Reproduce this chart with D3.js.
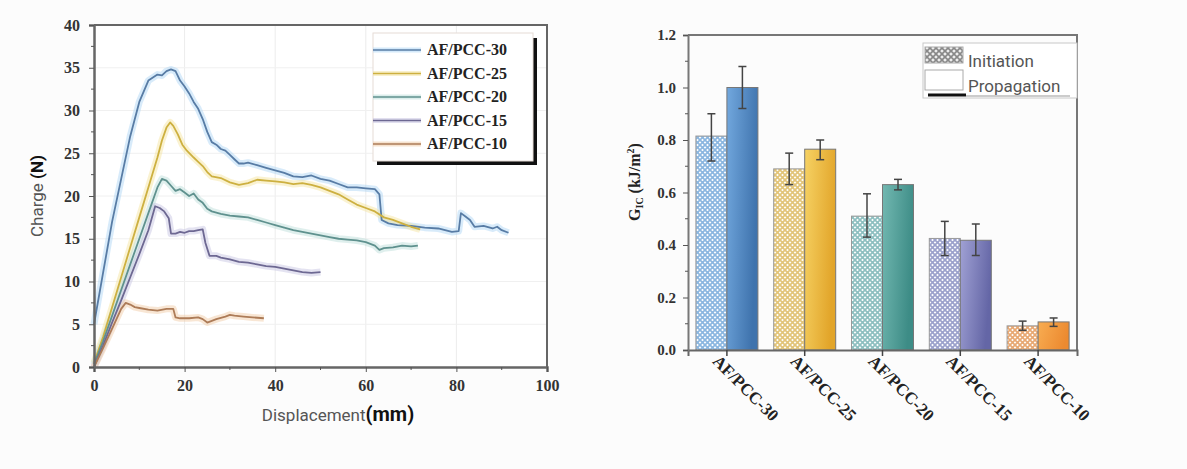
<!DOCTYPE html>
<html><head><meta charset="utf-8">
<script src="https://cdn.jsdelivr.net/npm/d3@7"></script>
<style>
body{margin:0;background:#fcfcfc;}
svg{display:block}
</style></head><body><svg width="1187" height="469"></svg>
<script>
// load-displacement curves [mm, N]
const series = ['AF/PCC-30','AF/PCC-25','AF/PCC-20','AF/PCC-15','AF/PCC-10']
const curve30 = [[0,5],[2,11],[4,17],[6,22],[8,27],[10,31],[12,33.5],[14,34.2],[15,34.1],[16,34.6],[17,34.8],[18,34.6],[19,33.5],[20,32.8],[21,32],[22,31],[23,30.2],[24,29],[25,27.5],[26,26.3],[27,26],[28,25.5],[29,25.3],[30,24.8],[31,24.3],[32,23.8],[33,23.8],[34,23.9],[36,23.6],[38,23.3],[40,23],[42,22.7],[44,22.3],[46,22.2],[48,22.4],[50,22.0],[52,21.8],[54,21.4],[56,21.0],[58,21.0],[60,20.9],[62,20.8],[63,20.2],[63.5,17.2],[65,16.8],[67,16.6],[70,16.5],[73,16.3],[76,16.2],[79,15.8],[80.5,15.9],[81,18.0],[82,17.6],[83,17.2],[84,16.4],[86,16.5],[88,16.2],[89,16.4],[90,16.0],[91.5,15.7]]
const curve25 = [[0,0.5],[2,3.5],[4,7],[6,10.5],[8,14],[10,17.5],[12,21],[14,24.5],[15,26.5],[16,28],[16.8,28.6],[17.5,28.2],[18.5,27.2],[19.5,26],[20.5,25.3],[22,24.5],[23,24],[24,23.5],[25,22.8],[26,22.3],[28,22.1],[30,21.6],[32,21.3],[34,21.5],[36,21.9],[38,21.8],[40,21.7],[42,21.6],[44,21.4],[46,21.5],[48,21.3],[50,21],[52,20.6],[54,20.2],[56,19.6],[58,19.0],[60,18.6],[62,18.2],[64,17.5],[66,17.2],[68,16.8],[70,16.4],[72,16.1]]
const curve20 = [[0,0.3],[2,3],[4,6],[6,9],[8,12],[10,15],[12,18],[14,21],[15,22],[16,21.8],[17,21.2],[18,20.6],[19,20.8],[20,20.4],[21,20.0],[22,20.3],[23,19.6],[24,19.2],[25,18.5],[26,18.2],[28,17.9],[30,17.7],[32,17.6],[34,17.5],[36,17.2],[38,16.9],[40,16.6],[42,16.3],[44,16.0],[46,15.8],[48,15.6],[50,15.4],[52,15.2],[54,15.0],[56,14.9],[58,14.8],[60,14.6],[62,14.2],[63,13.7],[64,13.9],[66,14.0],[68,14.2],[70,14.1],[71.5,14.2]]
const curve15 = [[0,0],[2,2.5],[4,5.2],[6,7.8],[8,10.5],[10,13.2],[12,16],[13.5,18.8],[14.5,18.6],[15.5,18.2],[16.5,17.4],[17,15.6],[18,15.6],[19,15.8],[20,15.7],[21,15.9],[22,15.9],[23,16],[24,16.1],[24.6,14.5],[25.5,13],[27,13],[28,12.8],[30,12.6],[32,12.3],[34,12.2],[36,12],[38,11.8],[40,11.7],[42,11.5],[44,11.3],[46,11.1],[48,11.0],[50,11.1]]
const curve10 = [[0,0],[2,2.2],[4,4.5],[6,6.8],[7,7.5],[8,7.3],[9,7.0],[10,6.9],[12,6.7],[14,6.6],[16,6.8],[17.5,6.8],[18,5.8],[19,5.7],[21,5.7],[23,5.8],[24,5.6],[25,5.2],[26,5.4],[27,5.6],[29,5.9],[30,6.1],[31,6.0],[33,5.9],[35,5.8],[37.5,5.7]]
const curves = [curve30, curve25, curve20, curve15, curve10]

// fracture toughness G_IC [kJ/m2]
const initiation = [0.815, 0.69, 0.51, 0.425, 0.092]
const initErr = [[0.72,0.90],[0.63,0.75],[0.43,0.595],[0.36,0.49],[0.075,0.11]]
const propagation = [1.0, 0.765, 0.63, 0.418, 0.107]
const propErr = [[0.92,1.08],[0.725,0.80],[0.61,0.65],[0.36,0.48],[0.09,0.122]]

const lineCol = ['#587ca5','#cdb040','#5f918e','#6d6892','#ad7c58']
const haloCol = ['#a9d3f5','#f3e39a','#b7dcd8','#c4c0e0','#f0c8a0']
const barLight = ['#72a8de','#f6d264','#72b8b1','#a0a1d4','#f8ad52']
const barDark = ['#3f73ad','#e2a52a','#3d8c86','#6466a6','#ec8a30']
const hatchCol = ['#8ab6e0','#e2c478','#8dbfc0','#9ba1cc','#e8a872']

const serif = 'Liberation Serif'
const svg = d3.select('svg')
svg.append('rect').attr('width',1187).attr('height',469).attr('fill','#fcfcfc')
const defs = svg.append('defs')

function styleTicks(a, size) {
	a.selectAll('.tick text').attr('font-family',serif).attr('font-weight','bold')
		.attr('font-size',size).attr('fill','#333')
}

// ---------- left: load vs displacement ----------
const x = d3.scaleLinear().domain([0,100]).range([94,547])
const y = d3.scaleLinear().domain([0,40]).range([367,25])
const L = svg.append('g')

L.append('rect').attr('x',94).attr('y',25).attr('width',453).attr('height',342).attr('fill','#fff')
L.append('g').selectAll('line').data([20,40,60,80]).join('line')
	.attr('x1',d => x(d)).attr('x2',d => x(d)).attr('y1',25).attr('y2',367)
	.attr('stroke','#ececec')
L.append('g').selectAll('line').data([5,10,15,20,25,30,35]).join('line')
	.attr('x1',94).attr('x2',547).attr('y1',d => y(d)).attr('y2',d => y(d))
	.attr('stroke','#f0f0f0')

const line = d3.line().x(d => x(d[0])).y(d => y(d[1]))
curves.forEach((c,i) => {
	L.append('path').datum(c).attr('d',line).attr('fill','none')
		.attr('stroke',haloCol[i]).attr('stroke-width',7).attr('stroke-opacity',0.45)
		.attr('stroke-linejoin','round')
})
curves.forEach((c,i) => {
	L.append('path').datum(c).attr('d',line).attr('fill','none')
		.attr('stroke',lineCol[i]).attr('stroke-width',1.8)
		.attr('stroke-linejoin','round')
})

// frame
L.append('path').attr('d','M94,25H547V367').attr('fill','none').attr('stroke','#666').attr('stroke-width',2)
const xAx = L.append('g').attr('transform','translate(0,367)')
	.call(d3.axisBottom(x).tickValues([0,20,40,60,80,100]).tickSize(5).tickPadding(8))
xAx.append('g').selectAll('line').data([10,30,50,70,90]).join('line')
	.attr('x1',d => x(d)).attr('x2',d => x(d)).attr('y1',0).attr('y2',3).attr('stroke','#555')
const yAx = L.append('g').attr('transform','translate(94,0)')
	.call(d3.axisLeft(y).tickValues(d3.range(0,41,5)).tickSize(5).tickPadding(9))
yAx.append('g').selectAll('line').data(d3.range(2.5,40,5)).join('line')
	.attr('y1',d => y(d)).attr('y2',d => y(d)).attr('x1',0).attr('x2',-3).attr('stroke','#555')
;[xAx,yAx].forEach(a => {
	a.select('.domain').attr('stroke','#666').attr('stroke-width',2.5)
	a.selectAll('.tick line').attr('stroke','#555')
	styleTicks(a, 16)
})

L.append('text').attr('transform','translate(43,196) rotate(-90)').attr('text-anchor','middle')
	.attr('font-family','Roboto').attr('font-size',17).attr('fill','#555')
	.text('Charge ')
	.append('tspan').attr('font-weight','bold').attr('fill','#111').text('(N)')
L.append('text').attr('x',338).attr('y',421).attr('text-anchor','middle')
	.attr('font-family','Roboto').attr('font-size',17).attr('fill','#555')
	.text('Displacement')
	.append('tspan').attr('font-weight','bold').attr('font-size',20).attr('fill','#111').text('(mm)')

// legend
const lg = L.append('g')
lg.append('rect').attr('x',377).attr('y',38).attr('width',160).attr('height',127).attr('fill','#111')
lg.append('rect').attr('x',373).attr('y',33).attr('width',160).attr('height',128).attr('fill','#fff').attr('stroke','#e6dcd6')
series.forEach((s,i) => {
	const yy = 50 + i*23.5
	lg.append('line').attr('x1',373).attr('x2',421).attr('y1',yy).attr('y2',yy)
		.attr('stroke',haloCol[i]).attr('stroke-width',5).attr('stroke-opacity',0.5)
	lg.append('line').attr('x1',373).attr('x2',421).attr('y1',yy).attr('y2',yy)
		.attr('stroke',lineCol[i]).attr('stroke-width',1.5)
	lg.append('text').attr('x',427).attr('y',yy+5)
		.attr('font-family',serif).attr('font-weight','bold').attr('font-size',16).attr('fill','#222')
		.text(s)
})

// ---------- right: G_IC bars ----------
const xb = d3.scaleBand().domain(series).range([688,1077])
const yb = d3.scaleLinear().domain([0,1.2]).range([350,35])
const R = svg.append('g')
const bw = 31

series.forEach((s,i) => {
	const p = defs.append('pattern').attr('id','hatch'+i).attr('patternUnits','userSpaceOnUse')
		.attr('width',5).attr('height',5)
	p.append('rect').attr('width',5).attr('height',5).attr('fill','#fff')
	p.append('path').attr('d','M0,0L5,5M5,0L0,5').attr('stroke',hatchCol[i]).attr('stroke-width',1.7)
	const g = defs.append('linearGradient').attr('id','grad'+i).attr('x1','0').attr('x2','1').attr('y1','0').attr('y2','0.3')
	g.append('stop').attr('offset','0').attr('stop-color',barLight[i])
	g.append('stop').attr('offset','1').attr('stop-color',barDark[i])
})
const lp = defs.append('pattern').attr('id','hatchL').attr('patternUnits','userSpaceOnUse').attr('width',6).attr('height',6)
lp.append('rect').attr('width',6).attr('height',6).attr('fill','#eee')
lp.append('path').attr('d','M0,0L6,6M6,0L0,6').attr('stroke','#888').attr('stroke-width',1.6)

const cx = s => xb(s) + xb.bandwidth()/2
R.selectAll('rect.init').data(series).join('rect').attr('class','init')
	.attr('x',s => cx(s)-bw).attr('width',bw)
	.attr('y',(s,i) => yb(initiation[i])).attr('height',(s,i) => yb(0)-yb(initiation[i]))
	.attr('fill',(s,i) => `url(#hatch${i})`).attr('stroke','#999').attr('stroke-width',1)
R.selectAll('rect.prop').data(series).join('rect').attr('class','prop')
	.attr('x',s => cx(s)).attr('width',bw)
	.attr('y',(s,i) => yb(propagation[i])).attr('height',(s,i) => yb(0)-yb(propagation[i]))
	.attr('fill',(s,i) => `url(#grad${i})`).attr('stroke','#777').attr('stroke-width',1)

function errBar(xc, e) {
	const g = R.append('g').attr('stroke','#444').attr('stroke-width',1.5)
	g.append('line').attr('x1',xc).attr('x2',xc).attr('y1',yb(e[0])).attr('y2',yb(e[1]))
	g.append('line').attr('x1',xc-4).attr('x2',xc+4).attr('y1',yb(e[0])).attr('y2',yb(e[0]))
	g.append('line').attr('x1',xc-4).attr('x2',xc+4).attr('y1',yb(e[1])).attr('y2',yb(e[1]))
}
series.forEach((s,i) => {
	errBar(cx(s)-bw/2, initErr[i])
	errBar(cx(s)+bw/2, propErr[i])
})

R.append('path').attr('d','M688,35H1077V350').attr('fill','none').attr('stroke','#777').attr('stroke-width',2)
const xbAx = R.append('g').attr('transform','translate(0,350)')
	.call(d3.axisBottom(xb).tickSize(6).tickFormat(''))
xbAx.select('.domain').attr('stroke','#666').attr('stroke-width',2)
xbAx.selectAll('.tick line').attr('stroke','#444').attr('stroke-width',1.5)
R.selectAll('text.cat').data(series).join('text').attr('class','cat')
	.attr('transform',s => `translate(${cx(s)-11},358) rotate(45)`)
	.attr('dy','0.35em')
	.attr('font-family',serif).attr('font-weight','bold').attr('font-size',17).attr('fill','#222')
	.text(s => s)

const ybAx = R.append('g').attr('transform','translate(688,0)')
	.call(d3.axisLeft(yb).tickValues(d3.range(0,1.21,0.2)).tickFormat(d3.format('.1f')).tickSize(5).tickPadding(7))
ybAx.append('g').selectAll('line').data(d3.range(0.1,1.2,0.2)).join('line')
	.attr('y1',d => yb(d)).attr('y2',d => yb(d)).attr('x1',0).attr('x2',-3).attr('stroke','#555')
ybAx.select('.domain').attr('stroke','#777').attr('stroke-width',2)
ybAx.selectAll('.tick line').attr('stroke','#555')
styleTicks(ybAx, 15)

const yl = R.append('text').attr('transform','translate(640,182) rotate(-90)').attr('text-anchor','middle')
	.attr('font-family',serif).attr('font-weight','bold').attr('font-size',16).attr('fill','#222')
yl.append('tspan').text('G')
yl.append('tspan').attr('font-size',10).attr('dy',3).text('IC')
yl.append('tspan').attr('dy',-3).text(' (kJ/m')
yl.append('tspan').attr('font-size',10).attr('dy',-6).text('2')
yl.append('tspan').attr('dy',6).text(')')

// legend
const rl = R.append('g')
rl.append('rect').attr('x',923).attr('y',43).attr('width',154).attr('height',55).attr('fill','#fff').attr('stroke','#c8c8c8')
rl.append('rect').attr('x',925).attr('y',47).attr('width',38).attr('height',16).attr('fill','url(#hatchL)').attr('stroke','#aaa')
rl.append('rect').attr('x',925).attr('y',70).attr('width',38).attr('height',20).attr('fill','#fff').attr('stroke','#aaa')
rl.append('line').attr('x1',928).attr('x2',966).attr('y1',95).attr('y2',95).attr('stroke','#111').attr('stroke-width',3)
rl.append('line').attr('x1',966).attr('x2',1070).attr('y1',96).attr('y2',96).attr('stroke','#999').attr('stroke-width',1)
rl.selectAll('text').data(['Initiation','Propagation']).join('text')
	.attr('x',968).attr('y',(d,i) => 67 + i*25)
	.attr('font-family','Roboto').attr('font-size',17).attr('fill','#555')
	.text(d => d)
</script></body></html>
